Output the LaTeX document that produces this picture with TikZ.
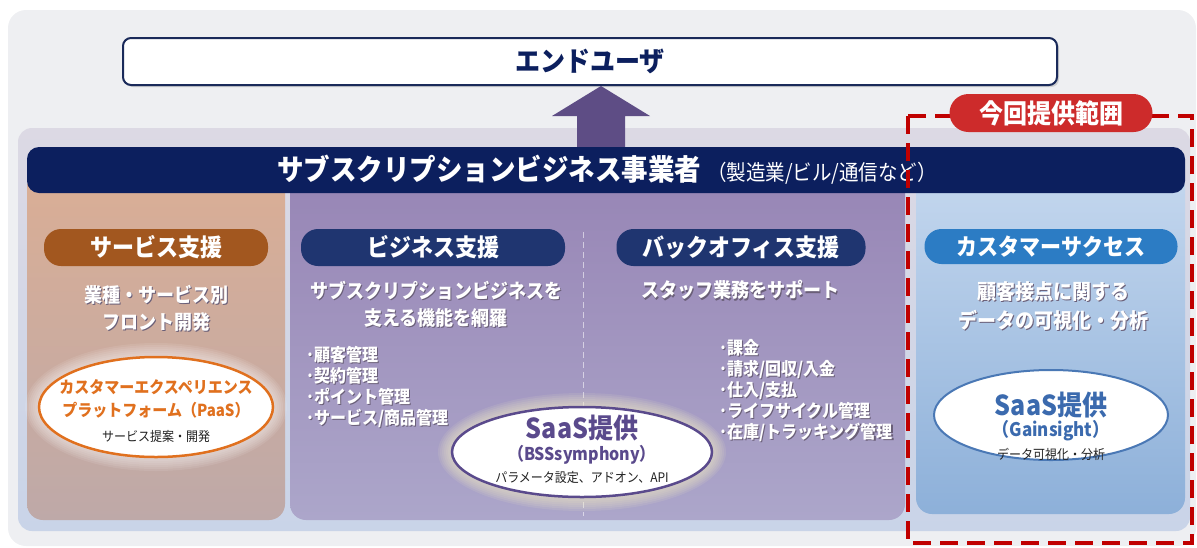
\documentclass[tikz,border=0pt]{standalone}
\usepackage{fontspec}
\setmainfont{Noto Sans CJK JP}
\usetikzlibrary{shadows,shapes.geometric,calc}
\definecolor{bgouter}{HTML}{EEEFF2}
\definecolor{bandtop}{HTML}{DCD9E4}
\definecolor{bandbot}{HTML}{C9D4E8}
\definecolor{navy}{HTML}{0C1F5E}
\definecolor{navyb}{HTML}{1A2A5A}
\definecolor{arrowc}{HTML}{5E4D85}
\definecolor{lefttop}{HTML}{DAAE95}
\definecolor{leftbot}{HTML}{BEA9A8}
\definecolor{midtop}{HTML}{9785B5}
\definecolor{midbot}{HTML}{ACA6CA}
\definecolor{righttop}{HTML}{C4D7EE}
\definecolor{rightbot}{HTML}{8DB0D9}
\definecolor{pillbrown}{HTML}{A2571F}
\definecolor{pillnavy}{HTML}{1F3570}
\definecolor{pillblue}{HTML}{2C7CC4}
\definecolor{pillred}{HTML}{CD2B2B}
\definecolor{reddash}{HTML}{C00000}
\definecolor{orangec}{HTML}{E0701E}
\definecolor{purplec}{HTML}{5A4A8C}
\definecolor{bluec}{HTML}{4A78B5}
\definecolor{bluetext}{HTML}{3B6AAE}
\definecolor{glowy}{HTML}{F4EEC4}
\definecolor{greytext}{HTML}{222222}
\definecolor{shadowc}{HTML}{6A5F78}
\newcommand\fpx[1]{\fontsize{#1pt}{#1pt}\selectfont}
\newcommand\tx[1]{\scalebox{1}[1.1]{#1}}
\newcommand\shd[1]{\rlap{\raisebox{-1.2pt}{\hspace{1.2pt}\color{shadowc}#1}}#1}
\begin{document}
\begin{tikzpicture}[x=1pt,y=-1pt,
  pill/.style={rounded corners=17pt, minimum height=37pt, inner sep=0pt, text=white, font=\fpx{22}\bfseries},
  subt/.style={text=white, align=center, inner sep=0pt, font=\bfseries},
  bullets/.style={text=white, align=left, anchor=north west, inner sep=0pt, font=\fontsize{16pt}{21pt}\selectfont\bfseries},
  oval/.style={ellipse, fill=white, line width=2.5pt, inner sep=0pt},
  ovtext/.style={align=center, inner sep=0pt}]
\useasboundingbox (0,0) rectangle (1197,547);
% backgrounds
\fill[bgouter, rounded corners=18pt] (8,10) rectangle (1196,546);
\shade[top color=bandtop, bottom color=bandbot, rounded corners=14pt] (18,128) rectangle (1190,531);
\shade[top color=lefttop, bottom color=leftbot, rounded corners=16pt] (27,172) rectangle (285,520);
\shade[top color=midtop, bottom color=midbot, rounded corners=16pt] (290,172) rectangle (905,520);
\shade[top color=righttop, bottom color=rightbot, rounded corners=16pt] (916,172) rectangle (1185,514);
\draw[white, opacity=0.55, line width=1pt, dash pattern=on 6pt off 4pt] (583,232) -- (583,516);
% end user
\node[draw=navyb, line width=2pt, fill=white, rounded corners=8pt, minimum width=934pt, minimum height=47pt, inner sep=0pt,
  drop shadow={opacity=0.3, shadow xshift=2pt, shadow yshift=-2pt}, text=navy, font=\fpx{25}\bfseries] (eu) at (590,61.5) {\tx{エンドユーザ}};
% navy bar
\node[fill=navy, rounded corners=12pt, minimum width=1158pt, minimum height=46pt, inner sep=0pt] (bar) at (606,170) {};
\node[anchor=west, text=white, inner sep=0pt] (bartext) at (277,170) {\tx{{\fpx{26.5}\bfseries サブスクリプションビジネス事業者}\hspace{6pt}{\fpx{19.5}（製造業/ビル/通信など）}}};
% arrow
\path (eu.south) ++(11,0) coordinate (tip);
\fill[arrowc] let \p1=(tip), \p2=(bar.north) in
  (\x1,\y1) -- (\x1+49pt,\y1-30pt) -- (\x1+24pt,\y1-30pt) -- (\x1+24pt,\y2) -- (\x1-24pt,\y2) -- (\x1-24pt,\y1-30pt) -- (\x1-49pt,\y1-30pt) -- cycle;
% pills
\node[pill, fill=pillbrown, minimum width=224pt] (sv) at (156,247.5) {\tx{サービス支援}};
\node[pill, fill=pillnavy, minimum width=264pt] (bz) at (433,247.5) {\tx{ビジネス支援}};
\node[pill, fill=pillnavy, minimum width=249pt] (bo) at (741,247.5) {\tx{バックオフィス支援}};
\node[pill, fill=pillblue, minimum width=253pt, minimum height=35pt, font=\fpx{21}\bfseries] (cs) at (1051,246.5) {\tx{カスタマーサクセス}};
% subtitles
\node[subt, font=\fpx{18}\bfseries] (svsub) at (156,309) {\tx{\shd{業種・サービス別}}\\[6pt]\tx{\shd{フロント開発}}};
\node[subt, font=\fpx{18}\bfseries] (bzsub) at (436,305) {\tx{\shd{サブスクリプションビジネスを}}\\[6pt]\tx{\shd{支える機能を網羅}}};
\node[subt, font=\fpx{18}\bfseries] (bosub) at (740,291) {\tx{\shd{スタッフ業務をサポート}}};
\node[subt, font=\fpx{19}\bfseries] (cssub) at (1053,306.5) {\tx{\shd{顧客接点に関する}}\\[6pt]\tx{\shd{データの可視化・分析}}};
% bullets
\node[bullets] (bzlist) at (306,346) {\tx{\shd{･顧客管理}}\\\tx{\shd{･契約管理}}\\\tx{\shd{･ポイント管理}}\\\tx{\shd{･サービス/商品管理}}};
\node[bullets] (bolist) at (719,339) {\tx{\shd{･課金}}\\\tx{\shd{･請求/回収/入金}}\\\tx{\shd{･仕入/支払}}\\\tx{\shd{･ライフサイクル管理}}\\\tx{\shd{･在庫/トラッキング管理}}};
% red dashed scope
\draw[reddash, line width=4.5pt, dash pattern=on 18pt off 9pt] (908,116) rectangle (1192,543);
\node[pill, fill=pillred, minimum width=203pt, minimum height=38pt, rounded corners=19pt, font=\fpx{24}\bfseries] (scope) at (1051,113) {\tx{今回提供範囲}};
% ellipses with glow
\foreach \i in {1,...,7} {
  \fill[white, opacity=0.09] (156,407) ellipse ({117+\i*2} and {50+\i*2});
  \fill[glowy, opacity=0.11] (582,452) ellipse ({130+\i*2} and {45+\i*2});
}
\node[oval, draw=orangec, minimum width=234pt, minimum height=100pt] (cx) at (156,407) {};
\node[oval, draw=purplec, minimum width=260pt, minimum height=90pt] (bss) at (582,452) {};
\node[oval, draw=bluec, line width=2pt, minimum width=234pt, minimum height=90pt] (gs) at (1051,415) {};
% ellipse texts
\node[ovtext, text=orangec, font=\fpx{15}\bfseries] (cxt) at (156,399) {\tx{カスタマーエクスペリエンス}\\[6pt]\tx{プラットフォーム（PaaS）}};
\node[ovtext, text=greytext, font=\fpx{12}] (cxs) at (156,437) {\tx{サービス提案・開発}};
\node[ovtext, text=purplec, font=\fpx{25}\bfseries] (bsst) at (582,428) {\tx{SaaS提供}};
\node[ovtext, text=purplec, font=\fpx{16}\bfseries] (bssn) at (582,455) {\tx{（BSSsymphony）}};
\node[ovtext, text=greytext, font=\fpx{12}] (bsss) at (582,478) {\tx{パラメータ設定、アドオン、API}};
\node[ovtext, text=bluetext, font=\fpx{25}\bfseries] (gst) at (1051,405) {\tx{SaaS提供}};
\node[ovtext, text=bluetext, font=\fpx{17}\bfseries] (gsn) at (1051,431) {\tx{（Gainsight）}};
\node[ovtext, text=greytext, font=\fpx{12}] (gss) at (1051,454) {\tx{データ可視化・分析}};
\end{tikzpicture}
\end{document}
